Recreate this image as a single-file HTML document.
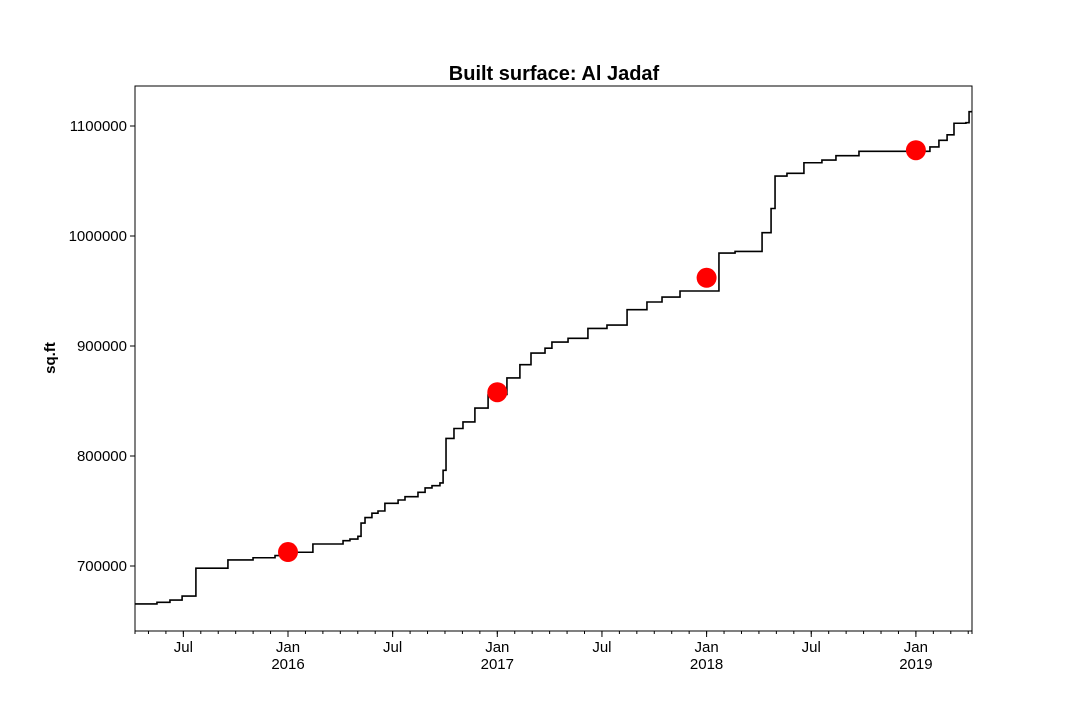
<!DOCTYPE html>
<html><head><meta charset="utf-8"><style>body{margin:0;background:#fff}svg{display:block}text{font-family:"Liberation Sans",sans-serif}</style></head>
<body>
<svg id="c" width="1080" height="720"></svg>
<script>
const stepDates=[2015.269,2015.374,2015.436,2015.494,2015.560,2015.713,2015.833,2015.938,2016.010,2016.119,2016.263,2016.296,2016.334,2016.349,2016.368,2016.401,2016.430,2016.463,2016.526,2016.559,2016.621,2016.655,2016.688,2016.726,2016.741,2016.755,2016.793,2016.836,2016.893,2016.956,2017.046,2017.108,2017.161,2017.228,2017.261,2017.338,2017.433,2017.524,2017.620,2017.715,2017.787,2017.873,2018.059,2018.136,2018.265,2018.308,2018.327,2018.384,2018.465,2018.551,2018.618,2018.728,2019.067,2019.110,2019.149,2019.182,2019.239,2019.254];
const stepValues=[665500,667000,669000,672700,698000,705500,707500,709500,712500,720000,723000,724500,727000,739000,744000,748000,750000,757000,760000,763000,767000,771000,773000,775500,787000,816000,825000,831000,843600,856000,871000,883000,893600,898000,903600,907000,916000,919000,933000,940000,944500,950000,984500,986000,1003000,1025000,1054500,1057000,1066600,1069000,1073000,1077000,1081000,1087000,1092000,1102500,1103000,1113000];
const endDate=2019.268;
const markerDates=[2016,2017,2018,2019];
const markerValues=[712700,858000,962000,1078000];
const yTicks=[700000,800000,900000,1000000,1100000];
const xMajor=[[2015.5,"Jul",""],[2016,"Jan","2016"],[2016.5,"Jul",""],[2017,"Jan","2017"],[2017.5,"Jul",""],[2018,"Jan","2018"],[2018.5,"Jul",""],[2019,"Jan","2019"]];
const L=135,R=972,T=86,B=631;
const X=t=>288+(t-2016)*209.3;
const Y=v=>566-(v-700000)*110/100000;
const svg=document.getElementById('c');const NS='http://www.w3.org/2000/svg';
function el(tag,a,txt){const e=document.createElementNS(NS,tag);for(const k in a)e.setAttribute(k,a[k]);if(txt!==undefined)e.textContent=txt;svg.appendChild(e);return e;}
let t=el('text',{x:554,y:80,'text-anchor':'middle','font-size':20,'font-weight':'bold'},'Built surface: Al Jadaf');


t=el('text',{transform:'translate(55,358) rotate(-90)','text-anchor':'middle','font-size':15,'font-weight':'bold'},'sq.ft');


yTicks.forEach(v=>{el('line',{x1:L-5,x2:L,y1:Y(v),y2:Y(v),stroke:'#000'});
 t=el('text',{x:L-8,y:Y(v)+5,'text-anchor':'end','font-size':15},String(v));
 
 });
for(let m=0;m<=60;m++){const tt=2015+3/12+m/12;const x=X(tt);if(x<L-0.5||x>R+0.5)continue;el('line',{x1:x,x2:x,y1:B,y2:B+3,stroke:'#000'});}
el('line',{x1:L,x2:L,y1:B,y2:B+3,stroke:'#000'});
el('line',{x1:R,x2:R,y1:B,y2:B+3,stroke:'#000'});
xMajor.forEach(d=>{const x=X(d[0]);el('line',{x1:x,x2:x,y1:B,y2:B+6,stroke:'#000'});
 t=el('text',{x:x,y:B+21,'text-anchor':'middle','font-size':15},d[1]);
 
 
 if(d[2]){t=el('text',{x:x,y:B+38,'text-anchor':'middle','font-size':15},d[2]);
 
 }});
let d='';stepDates.forEach((s,i)=>{const x=X(s),y=Y(stepValues[i]);d+=(i?'L'+x+' '+Y(stepValues[i-1])+'L':'M')+x+' '+y;});
d+='L'+X(endDate)+' '+Y(stepValues[stepValues.length-1]);
const p=el('path',{d:d,fill:'none',stroke:'#000','stroke-width':1.6});


markerDates.forEach((m,i)=>{const c=el('circle',{cx:X(m),cy:Y(markerValues[i]),r:10,fill:'#ff0000'});
 
 });
const f=el('rect',{x:L,y:T,width:R-L,height:B-T,fill:'none',stroke:'#000','stroke-width':1});


</script>
</body></html>
